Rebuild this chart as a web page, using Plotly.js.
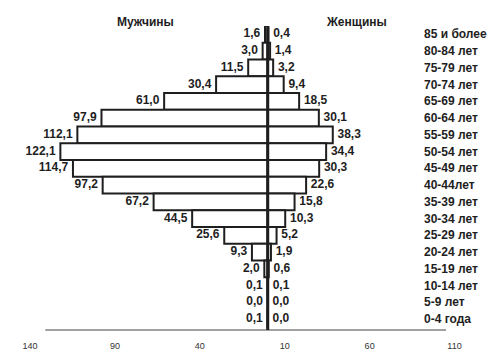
<!DOCTYPE html>
<html>
<head>
<meta charset="utf-8">
<script src="https://cdn.plot.ly/plotly-3.0.1.min.js"></script>
<style>html,body{margin:0;padding:0;background:#fff;}#chart{width:500px;height:357px;}</style>
</head>
<body>
<div id="chart"></div>
<script>
const ages = ["85 и более","80-84 лет","75-79 лет","70-74 лет","65-69 лет","60-64 лет","55-59 лет","50-54 лет","45-49 лет","40-44лет","35-39 лет","30-34 лет","25-29 лет","20-24 лет","15-19 лет","10-14 лет","5-9 лет","0-4 года"];
const men = [1.6,3.0,11.5,30.4,61.0,97.9,112.1,122.1,114.7,97.2,67.2,44.5,25.6,9.3,2.0,0.1,0.0,0.1];
const women = [0.4,1.4,3.2,9.4,18.5,30.1,38.3,34.4,30.3,22.6,15.8,10.3,5.2,1.9,0.6,0.1,0.0,0.0];
const tickVals = [-140,-90,-40,10,60,110];
const tickText = ["140","90","40","10","60","110"];
const groupTitles = ["Мужчины","Женщины"];

const fmt = v => v.toFixed(1).replace('.', ',');
const font = 'Liberation Sans, Arial, sans-serif';
const ink = '#1e1e1e';

const barStyle = {color:'#ffffff', line:{color:ink, width:2}};
const ghost = {size:6, color:'rgba(0,0,0,0)', line:{width:0}};
const traces = [
  {type:'bar', orientation:'h', y:ages, x:men.map(v=>-v), marker:barStyle, hoverinfo:'skip'},
  {type:'bar', orientation:'h', y:ages, x:women, marker:barStyle, hoverinfo:'skip'},
  {type:'scatter', mode:'markers+text', y:ages, x:men.map(v=>-v), text:men.map(fmt), textposition:'middle left',
   marker:ghost, textfont:{family:font, size:12, color:ink, weight:'bold'}, hoverinfo:'skip', cliponaxis:false},
  {type:'scatter', mode:'markers+text', y:ages, x:women, text:women.map(fmt), textposition:'middle right',
   marker:ghost, textfont:{family:font, size:12, color:ink, weight:'bold'}, hoverinfo:'skip', cliponaxis:false}
];

const annotations = ages.map(a => ({
  x:91, y:a, xref:'x', yref:'y', text:a, showarrow:false, xanchor:'left', yanchor:'middle',
  font:{family:font, size:12, color:ink, weight:'bold'}
}));
annotations.push({x:-72, y:1.012, xref:'x', yref:'paper', text:groupTitles[0], showarrow:false,
  xanchor:'center', yanchor:'middle', font:{family:font, size:12, color:ink, weight:'bold'}});
annotations.push({x:52, y:1.012, xref:'x', yref:'paper', text:groupTitles[1], showarrow:false,
  xanchor:'center', yanchor:'middle', font:{family:font, size:12, color:ink, weight:'bold'}});

const layout = {
  width:500, height:357,
  margin:{l:13, r:19.5, t:25.6, b:27, pad:0},
  paper_bgcolor:'#ffffff', plot_bgcolor:'#ffffff',
  showlegend:false,
  barmode:'relative', bargap:0,
  xaxis:{range:[-150,125], tickvals:tickVals, ticktext:tickText, showgrid:false, zeroline:false,
    showline:false, ticks:'outside', ticklen:7, tickcolor:'rgba(0,0,0,0)',
    tickfont:{family:font, size:9, color:'#333'}, fixedrange:true},
  yaxis:{type:'category', range:[17.65,-0.5], showticklabels:false, showgrid:false, zeroline:false,
    showline:false, ticks:'', fixedrange:true},
  shapes:[
    {type:'line', xref:'x', yref:'paper', x0:-131, x1:105, y0:0, y1:0, line:{color:'#444', width:1.2}},
    {type:'line', xref:'x', yref:'paper', x0:0, x1:0, y0:0, y1:0.995, line:{color:ink, width:3}}
  ],
  annotations:annotations
};

Plotly.newPlot('chart', traces, layout, {displayModeBar:false, staticPlot:true});
</script>
</body>
</html>
